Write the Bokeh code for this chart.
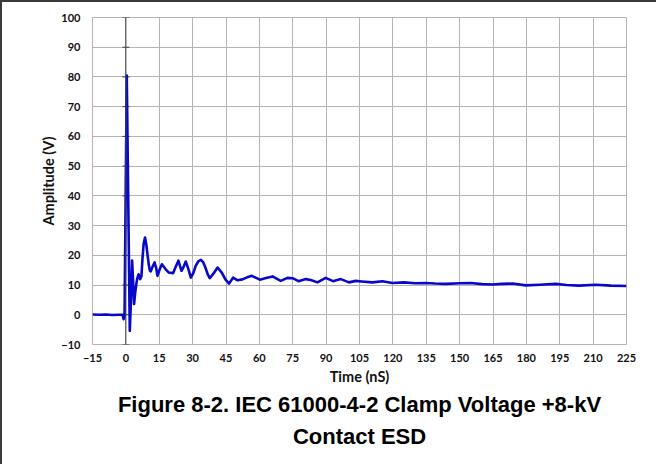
from bokeh.plotting import figure
from bokeh.models import Range1d, FixedTicker, Span, Title
from bokeh.embed import file_html
from bokeh.resources import INLINE

# ---- data ----
time_ns = [-15, -12, -9, -6, -3, -1.5, -1.0, -0.6, 0.4, 1.2, 1.75, 2.3, 2.8, 3.2, 3.7,
           4.2, 4.8, 5.2, 5.7, 6.4, 7.0, 7.5, 8.0, 8.6, 9.2, 9.7, 10.3, 10.8, 11.2,
           12.0, 12.9, 13.6, 14.2, 15.2, 16.2, 17.9, 19.3, 21.2, 22.5, 23.6, 25.0,
           26.0, 26.9, 28.0, 29.2, 30.3, 31.4, 32.6, 33.7, 34.8, 35.7, 36.8, 37.7,
           39.5, 41.2, 43.1, 44.8, 46.4, 48.2, 50.2, 52.4, 54.5, 56.6, 60.2, 63.0,
           65.9, 69.6, 72.6, 74.9, 77.6, 80.9, 83.1, 86.1, 89.8, 93.1, 96.6, 100.3,
           103.3, 106, 110.8, 115.3, 119.8, 125, 130, 134.8, 139, 143.8, 150, 155,
           160, 164.8, 169, 173.8, 179.7, 186, 193.2, 198, 203.7, 211.2, 218, 225]
amplitude_v = [0.1, 0.0, 0.1, -0.1, 0.0, 0.0, -1.5, -0.5, 80.5, 30, -5.4, 5, 18.2, 12, 3.6,
               7.5, 10.9, 12.5, 13.6, 12.0, 13.0, 19.3, 24.0, 26.0, 23.5, 20.4, 16.8,
               14.8, 14.6, 16.2, 17.6, 15.8, 13.1, 15.3, 17.0, 15.3, 14.2, 14.0, 16.3,
               18.2, 14.8, 16.2, 17.9, 15.6, 12.5, 14.0, 16.5, 18.0, 18.5, 17.6, 16.0,
               13.6, 12.3, 14.0, 15.9, 14.2, 11.8, 10.5, 12.5, 11.6, 11.9, 12.6, 13.1,
               11.8, 12.4, 12.9, 11.4, 12.4, 12.3, 11.3, 12.0, 11.7, 10.9, 12.4, 11.3,
               12.0, 10.9, 11.4, 11.2, 10.9, 11.3, 10.7, 10.9, 10.6, 10.7, 10.5, 10.4,
               10.6, 10.7, 10.3, 10.2, 10.4, 10.5, 9.9, 10.1, 10.4, 10.0, 9.8, 10.1,
               9.8, 9.7]

x_ticks = [-15, 0, 15, 30, 45, 60, 75, 90, 105, 120, 135, 150, 165, 180, 195, 210, 225]
y_ticks = [-10, 0, 10, 20, 30, 40, 50, 60, 70, 80, 90, 100]

x_label = "Time (nS)"
y_label = "Amplitude (V)"
caption_1 = "Figure 8-2. IEC 61000-4-2 Clamp Voltage +8-kV"
caption_2 = "Contact ESD"

GRID = "#b4b4b4"
TICKFONT = "Lato"

p = figure(width=654, height=462, output_backend="svg", toolbar_location=None,
           x_range=Range1d(-15, 225), y_range=Range1d(-10, 100),
           min_border_left=90, min_border_right=30, min_border_top=15,
           min_border_bottom=120, background_fill_color="white",
           border_fill_color="white")
p.frame_width = 534
p.frame_height = 327
p.styles = {"border-top": "2px solid #3a3a3a", "border-left": "2px solid #3a3a3a"}

p.outline_line_color = GRID
p.outline_line_width = 1

for ax in (p.xaxis[0], p.yaxis[0]):
    ax.axis_line_color = None
    ax.major_tick_line_color = None
    ax.minor_tick_line_color = None
    ax.major_tick_out = 0
    ax.major_tick_in = 0
    ax.major_label_text_font = TICKFONT
    ax.major_label_text_font_style = "bold"
    ax.major_label_text_font_size = "11px"
    ax.major_label_text_color = "#111111"
    ax.axis_label_text_font = TICKFONT
    ax.axis_label_text_font_style = "bold"
    ax.axis_label_text_font_size = "14.5px"
    ax.axis_label_text_color = "#111111"

p.xaxis.ticker = FixedTicker(ticks=x_ticks)
p.yaxis.ticker = FixedTicker(ticks=y_ticks)
p.xaxis.axis_label = x_label
p.yaxis.axis_label = y_label
p.xaxis.major_label_standoff = 9
p.xaxis.axis_label_standoff = 3
p.yaxis.major_label_standoff = 12
p.yaxis.axis_label_standoff = 1

p.xgrid.ticker = FixedTicker(ticks=x_ticks)
p.ygrid.ticker = FixedTicker(ticks=y_ticks)
p.grid.grid_line_color = GRID
p.grid.grid_line_width = 1

# vertical axis line through x = 0 with small tick marks
p.add_layout(Span(location=0, dimension="height", line_color="#404040", line_width=1))
p.dash(x=[0] * len(y_ticks), y=y_ticks, size=7, line_color="#404040", line_width=1)

p.line(time_ns, amplitude_v, line_color="#0808cc", line_width=2.6, line_join="round")

t1 = Title(text=caption_1, align="center", text_font="Liberation Sans",
           text_font_style="bold", text_font_size="22px", text_color="black",
           standoff=5, offset=6)
t2 = Title(text=caption_2, align="center", text_font="Liberation Sans",
           text_font_style="bold", text_font_size="22px", text_color="black",
           standoff=5, offset=6)
p.add_layout(t1, "below")
p.add_layout(t2, "below")

open("out.html", "w").write(file_html(p, INLINE))
